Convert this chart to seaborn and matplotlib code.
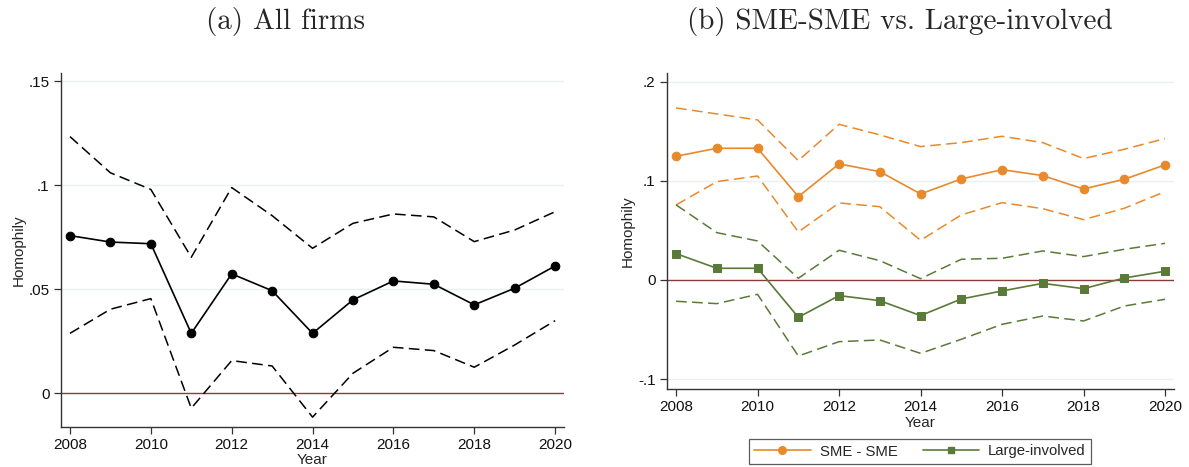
import matplotlib
matplotlib.use("Agg")
import matplotlib.pyplot as plt
import seaborn as sns
import pandas as pd
import numpy as np
from matplotlib.lines import Line2D

years = list(range(2008, 2021))

# Panel (a): all firms
all_est = [0.0758, 0.0727, 0.0719, 0.0288, 0.0574, 0.0493, 0.0288, 0.0449, 0.0540, 0.0524, 0.0425, 0.0505, 0.0612]
all_hi = [0.1234, 0.1060, 0.0980, 0.0654, 0.0989, 0.0854, 0.0697, 0.0817, 0.0862, 0.0848, 0.0729, 0.0785, 0.0873]
all_lo = [0.0288, 0.0404, 0.0455, -0.0072, 0.0157, 0.0131, -0.0115, 0.0096, 0.0221, 0.0205, 0.0125, 0.0232, 0.0349]

# Panel (b): SME-SME vs Large-involved
sme_est = [0.1249, 0.1330, 0.1330, 0.0842, 0.1172, 0.1094, 0.0869, 0.1020, 0.1114, 0.1054, 0.0919, 0.1017, 0.1162]
sme_hi = [0.1737, 0.1677, 0.1616, 0.1205, 0.1572, 0.1465, 0.1347, 0.1387, 0.1451, 0.1387, 0.1226, 0.1320, 0.1428]
sme_lo = [0.0758, 0.0993, 0.1050, 0.0485, 0.0778, 0.0740, 0.0401, 0.0657, 0.0781, 0.0720, 0.0609, 0.0724, 0.0892]
lrg_est = [0.0266, 0.0118, 0.0118, -0.0377, -0.0158, -0.0209, -0.0360, -0.0192, -0.0111, -0.0034, -0.0088, 0.0020, 0.0088]
lrg_hi = [0.0758, 0.0478, 0.0394, 0.0017, 0.0300, 0.0195, 0.0013, 0.0209, 0.0219, 0.0293, 0.0236, 0.0310, 0.0370]
lrg_lo = [-0.0215, -0.0239, -0.0145, -0.0768, -0.0623, -0.0606, -0.0741, -0.0599, -0.0448, -0.0364, -0.0414, -0.0263, -0.0195]

xticks = [2008, 2010, 2012, 2014, 2016, 2018, 2020]
yticks_a = [0, 0.05, 0.1, 0.15]
ylabels_a = ["0", ".05", ".1", ".15"]
yticks_b = [-0.1, 0, 0.1, 0.2]
ylabels_b = ["-.1", "0", ".1", ".2"]

titles = ["(a) All firms", "(b) SME-SME vs. Large-involved"]
legend_labels = ["SME - SME", "Large-involved"]

ORANGE = "#e8892b"
GREEN = "#5a7a38"
ZERO = "#8b3a3a"
GRID = "#e8f0f1"

sns.set_theme(style="white")
plt.rcParams["font.family"] = ["Liberation Sans", "DejaVu Sans"]

W, H = 1189, 467
fig = plt.figure(figsize=(W / 100, H / 100), dpi=100)

def ax_rect(x0, y0, x1, y1):
    return [x0 / W, 1 - y1 / H, (x1 - x0) / W, (y1 - y0) / H]

ax1 = fig.add_axes(ax_rect(60.7, 73, 564, 426.7))
ax2 = fig.add_axes(ax_rect(666.7, 73, 1174, 389.3))

dash = (7, 3.5)
TICKFS = 11
LABFS = 11

def style(ax, yt, yl, ylim):
    ax.set_xlim(2007.77, 2020.22)
    ax.set_ylim(*ylim)
    ax.set_xticks(xticks)
    ax.set_xticklabels([str(t) for t in xticks], fontsize=TICKFS)
    ax.set_yticks(yt)
    ax.set_yticklabels(yl, fontsize=TICKFS)
    for y in yt:
        if y != 0:
            ax.axhline(y, color=GRID, lw=1.0, zorder=0)
    ax.axhline(0, color=ZERO, lw=1.0, zorder=1)
    for s in ["top", "right"]:
        ax.spines[s].set_visible(False)
    for s in ["left", "bottom"]:
        ax.spines[s].set_color("#333333")
        ax.spines[s].set_linewidth(1.0)
    ax.tick_params(axis="both", which="both", direction="out", length=5, width=0.9,
                   color="#333333", left=True, bottom=True, pad=3, labelcolor="#111111")
    ax.set_xlabel("")
    ax.set_ylabel("Homophily", fontsize=LABFS, labelpad=2)
    ax.grid(False)
    ax.set_facecolor("white")

# Panel a
da = pd.DataFrame({"Year": years, "est": all_est, "hi": all_hi, "lo": all_lo})
sns.lineplot(data=da, x="Year", y="hi", ax=ax1, color="black", lw=1.1, linestyle=(0, dash))
sns.lineplot(data=da, x="Year", y="lo", ax=ax1, color="black", lw=1.1, linestyle=(0, dash))
sns.lineplot(data=da, x="Year", y="est", ax=ax1, color="black", lw=1.2, marker="o",
             markersize=6.2, markeredgecolor="black", zorder=5)
style(ax1, yticks_a, ylabels_a, (-0.0161, 0.154))
ax1.text(0.5, -0.095, "Year", transform=ax1.transAxes, ha="center", va="center", fontsize=LABFS)

# Panel b
db = pd.DataFrame({"Year": years, "sme": sme_est, "sme_hi": sme_hi, "sme_lo": sme_lo,
                   "lrg": lrg_est, "lrg_hi": lrg_hi, "lrg_lo": lrg_lo})
for col, c in [("sme_hi", ORANGE), ("sme_lo", ORANGE), ("lrg_hi", GREEN), ("lrg_lo", GREEN)]:
    sns.lineplot(data=db, x="Year", y=col, ax=ax2, color=c, lw=1.1, linestyle=(0, dash))
sns.lineplot(data=db, x="Year", y="sme", ax=ax2, color=ORANGE, lw=1.2, marker="o",
             markersize=6.2, markeredgecolor=ORANGE, zorder=5)
sns.lineplot(data=db, x="Year", y="lrg", ax=ax2, color=GREEN, lw=1.2, marker="s",
             markersize=5.6, markeredgecolor=GREEN, zorder=5)
style(ax2, yticks_b, ylabels_b, (-0.1104, 0.209))
ax2.text(0.5, -0.105, "Year", transform=ax2.transAxes, ha="center", va="center", fontsize=LABFS)

handles = [Line2D([0], [0], color=ORANGE, lw=1.2, marker="o", markersize=5.5),
           Line2D([0], [0], color=GREEN, lw=1.2, marker="s", markersize=5)]
leg = fig.legend(handles, legend_labels, loc="center", bbox_to_anchor=(920 / W, 1 - 451.5 / H),
                 ncol=2, fontsize=10.7, frameon=True, fancybox=False, handlelength=3.8,
                 columnspacing=1.7, borderpad=0.35, handletextpad=0.6, borderaxespad=0)
leg.get_frame().set_edgecolor("#333333")
leg.get_frame().set_linewidth(0.9)

fig.text(285 / W, 1 - 22 / H, titles[0], ha="center", va="center", fontsize=21, family="cmr10")
fig.text(900 / W, 1 - 22 / H, titles[1], ha="center", va="center", fontsize=21, family="cmr10")

fig.savefig("out.png", dpi=100, facecolor="white")
